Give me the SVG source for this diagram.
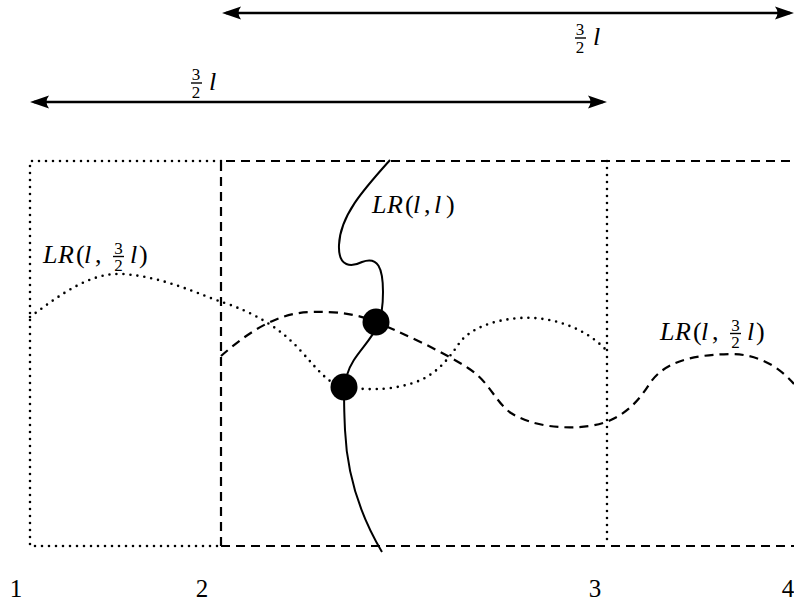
<svg xmlns="http://www.w3.org/2000/svg" width="794" height="603" viewBox="0 0 794 603">
<style>
.t{font-size:26px;fill:#000}
.i{font-style:italic}
.f{font-size:17px;fill:#000;text-anchor:middle}
.n{font-size:25px;fill:#000;text-anchor:middle}
.dot{fill:none;stroke:#000;stroke-width:2.6;stroke-dasharray:0 7;stroke-linecap:round}
.dash{fill:none;stroke:#000;stroke-width:2.2;stroke-dasharray:9 6}
.solid{fill:none;stroke:#000;stroke-width:2}
.arr{stroke:#000;stroke-width:2.4;fill:none}
.bar{stroke:#000;stroke-width:1.4}
</style>
<defs>
<marker id="ah" viewBox="-22 -10 24 20" refX="-4" refY="0" markerWidth="24" markerHeight="20" markerUnits="userSpaceOnUse" orient="auto-start-reverse">
<path d="M0,0 L-19,-6.5 Q-14,0 -19,6.5 Z" fill="#000"/>
</marker>
</defs>

<g id="connectors">
<line class="arr" x1="226" y1="13" x2="790" y2="13" marker-start="url(#ah)" marker-end="url(#ah)"/>
<line class="arr" x1="34" y1="102" x2="603" y2="102" marker-start="url(#ah)" marker-end="url(#ah)"/>
</g>

<g id="box-dotted">
<path class="dot" d="M221,161 L30,161 L30,546 L221,546"/>
<path class="dot" d="M607,161 L607,546"/>
</g>
<g id="box-dashed">
<path class="dash" d="M221,546 L221,161 L794,161"/>
<path class="dash" d="M221,546 L794,546"/>
</g>

<g id="curve-dotted">
<path class="dot" d="M30,317 C60,295 90,272 123,274 C165,277 200,295 222,302 C255,313 280,328 300,350 C318,370 330,386 345,387 C360,389 385,392 413,383 C435,376 448,360 460,342 C470,330 490,320 520,318 C550,316 585,327 607,351"/>
</g>
<g id="curve-dashed">
<path class="dash" d="M221,356 C245,335 275,313 310,312 C340,311 360,315 376,322 C400,332 440,350 468,368 C490,382 495,402 511,413 C530,425 560,430 590,426 C622,421 638,402 650,383 C665,362 690,355 730,354 C760,354 780,368 794,384"/>
</g>
<g id="curve-solid">
<path class="solid" d="M390,160 C365,188 340,215 339,245 C338,268 352,267 362,262 C378,256 383,268 383,292 C383,305 382,315 378,325 C370,343 352,356 347,375 C343,392 344,405 345,430 C347,475 360,515 382,552"/>
</g>

<g id="points">
<circle cx="376" cy="322" r="13.5" fill="#000"/>
<circle cx="344" cy="387" r="13.5" fill="#000"/>
</g>

<g font-family="Liberation Serif, Times New Roman, serif">
<g id="label-top">
<text class="f" x="580" y="35">3</text>
<line class="bar" x1="575" y1="38" x2="586" y2="38"/>
<text class="f" x="580" y="53">2</text>
<text class="t i" x="593" y="45">l</text>
</g>
<g id="label-bottom">
<text class="f" x="196" y="80">3</text>
<line class="bar" x1="191" y1="83" x2="202" y2="83"/>
<text class="f" x="196" y="98">2</text>
<text class="t i" x="209" y="90">l</text>
</g>

<g id="label-LRll">
<text class="t"><tspan class="i" x="372" y="213">L</tspan><tspan class="i" x="387" y="213">R</tspan><tspan x="405" y="213">(</tspan><tspan class="i" x="413" y="213">l</tspan><tspan x="424" y="213">,</tspan><tspan class="i" x="434" y="213">l</tspan><tspan x="446" y="213">)</tspan></text>
</g>

<g id="label-left">
<text class="t"><tspan class="i" x="43" y="263">L</tspan><tspan class="i" x="58" y="263">R</tspan><tspan x="76" y="263">(</tspan><tspan class="i" x="84" y="263">l</tspan><tspan x="95" y="263">,</tspan><tspan class="i" x="130" y="263">l</tspan><tspan x="139" y="263">)</tspan></text>
<text class="f" x="118.5" y="254">3</text>
<line class="bar" x1="113" y1="256.5" x2="124" y2="256.5"/>
<text class="f" x="118.5" y="271">2</text>
</g>

<g id="label-right" transform="translate(617,77)">
<text class="t"><tspan class="i" x="43" y="263">L</tspan><tspan class="i" x="58" y="263">R</tspan><tspan x="76" y="263">(</tspan><tspan class="i" x="84" y="263">l</tspan><tspan x="95" y="263">,</tspan><tspan class="i" x="130" y="263">l</tspan><tspan x="139" y="263">)</tspan></text>
<text class="f" x="118.5" y="254">3</text>
<line class="bar" x1="113" y1="256.5" x2="124" y2="256.5"/>
<text class="f" x="118.5" y="271">2</text>
</g>

<g id="axis-labels">
<text class="n" x="16" y="597">1</text>
<text class="n" x="202" y="597">2</text>
<text class="n" x="595" y="597">3</text>
<text class="n" x="788" y="597">4</text>
</g>
</g>
</svg>
